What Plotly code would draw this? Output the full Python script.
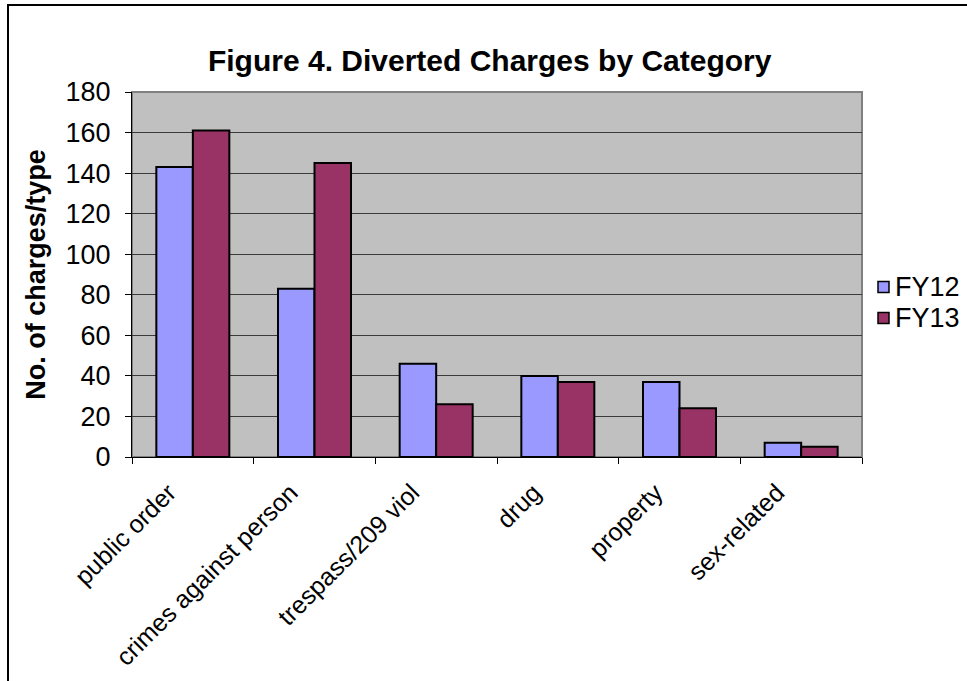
import plotly.graph_objects as go

categories = ["public order", "crimes against person", "trespass/209 viol",
              "drug", "property", "sex-related"]
fy12 = [143, 83, 46, 40, 37, 7]
fy13 = [161, 145, 26, 37, 24, 5]
y_ticks = [0, 20, 40, 60, 80, 100, 120, 140, 160, 180]
series_names = ["FY12", "FY13"]
series_colors = ["#9999FF", "#993366"]

FONT = "Liberation Sans, Arial, sans-serif"
TXT = 27
XTXT = 25

fig = go.Figure()
for name, vals, col in zip(series_names, [fy12, fy13], series_colors):
    fig.add_trace(go.Bar(name=name, x=categories, y=vals, showlegend=False,
                         marker=dict(color=col, line=dict(color="black", width=2))))

W, H = 967, 681
L, R, T, B = 132, 105, 92, 224
pw = W - L - R
ph = H - T - B

def px_x(p):
    return (p - L) / pw

def px_y(p):
    return (H - B - p) / ph

fig.update_layout(
    width=W, height=H,
    margin=dict(l=L, r=R, t=T, b=B, autoexpand=False),
    paper_bgcolor="white",
    plot_bgcolor="#C0C0C0",
    barmode="group",
    bargap=0.4,
    bargroupgap=0,
    font=dict(family=FONT, color="black", size=TXT),
    title=dict(text="<b>Figure 4. Diverted Charges by Category</b>",
               font=dict(size=30, family=FONT, color="black"),
               x=0.49, xref="paper", xanchor="center",
               y=(H - 60) / H, yanchor="middle"),
    showlegend=False,
    xaxis=dict(type="category", tickson="boundaries", ticks="outside",
               ticklen=6, tickcolor="black", tickwidth=1,
               tickangle=-45, tickfont=dict(size=XTXT, family=FONT),
               ticklabelstandoff=10, ticklabelshift=-24,
               showline=True, linecolor="black", linewidth=1,
               showgrid=False, mirror=False),
    yaxis=dict(range=[0, 180], tickvals=y_ticks, ticks="outside",
               ticklen=6, tickcolor="black", tickwidth=1,
               ticklabelstandoff=9,
               tickfont=dict(size=TXT, family=FONT),
               showline=True, linecolor="black", linewidth=1,
               showgrid=True, gridcolor="#3a3a3a", gridwidth=1,
               zeroline=False,
               title=dict(text="<b>No. of charges/type</b>",
                          font=dict(size=TXT, family=FONT), standoff=12)),
)

# legend: colour keys and labels to the right of the plot area
legend_rows = [287, 318]
for name, col, yc in zip(series_names, series_colors, legend_rows):
    fig.add_shape(type="rect", xref="paper", yref="paper",
                  x0=px_x(878), x1=px_x(889), y0=px_y(yc + 5.5), y1=px_y(yc - 5.5),
                  fillcolor=col, line=dict(color="black", width=1.5))
    fig.add_annotation(text=name, xref="paper", yref="paper",
                       x=px_x(893), y=px_y(yc), xanchor="left", yanchor="middle",
                       showarrow=False, font=dict(size=TXT, family=FONT, color="black"))

# plot area edge
fig.add_shape(type="rect", xref="paper", yref="paper", x0=0, x1=1, y0=0, y1=1,
              line=dict(color="#808080", width=2), layer="below")
# outer chart frame
fig.add_shape(type="rect", xref="paper", yref="paper",
              x0=px_x(8), x1=px_x(1000), y0=px_y(720), y1=px_y(5),
              line=dict(color="black", width=2))

fig.write_html("out.html")
